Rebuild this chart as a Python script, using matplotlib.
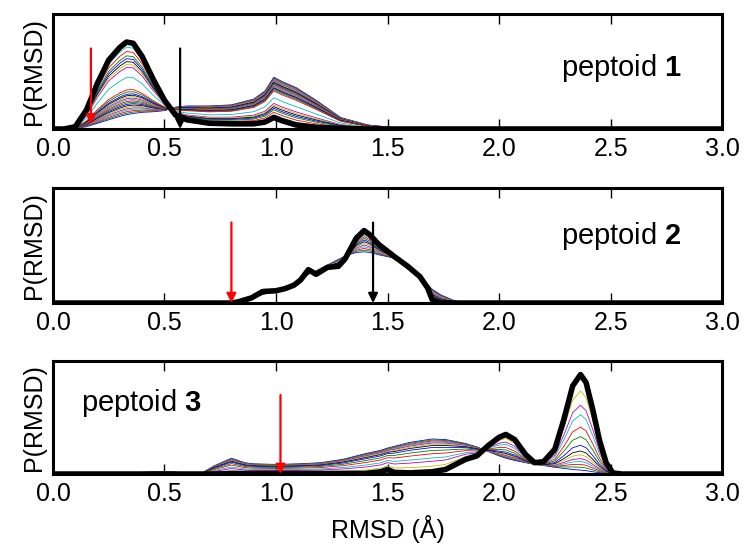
import matplotlib
matplotlib.use('Agg')
import matplotlib.pyplot as plt
import numpy as np

plt.rcParams['font.family'] = ['Liberation Sans', 'DejaVu Sans']
plt.rcParams['mathtext.fontset'] = 'custom'
plt.rcParams['mathtext.rm'] = 'Liberation Sans'
plt.rcParams['mathtext.bf'] = 'Liberation Sans:bold'

## Data (P(RMSD) scaled so the panel height is 1)
## peptoid 1
x1 = [0.0, 0.05, 0.1, 0.15, 0.2, 0.25, 0.3, 0.33, 0.36, 0.4,
      0.45, 0.5, 0.55, 0.6, 0.7, 0.8, 0.9, 0.95, 0.99, 1.03,
      1.09, 1.18, 1.29, 1.41, 1.55, 1.7, 3.0]
final1 = [0, 0, 0.02, 0.165, 0.4, 0.6, 0.71, 0.756, 0.745, 0.63,
          0.43, 0.25, 0.12, 0.08, 0.05, 0.045, 0.045, 0.06, 0.1, 0.07,
          0.035, 0.015, 0.005, 0, 0, 0, 0]
start1 = [0, 0, 0.005, 0.02, 0.05, 0.08, 0.11, 0.125, 0.135, 0.145,
          0.15, 0.16, 0.19, 0.2, 0.2, 0.21, 0.26, 0.33, 0.45, 0.41,
          0.36, 0.25, 0.1, 0.035, 0.008, 0, 0]
# how far each thin curve has moved from start to final
frac1 = [0.0, 0.02, 0.04, 0.06, 0.08, 0.10, 0.12, 0.14, 0.16, 0.18,
         0.20, 0.22, 0.24, 0.26, 0.28, 0.31, 0.34, 0.51,
         0.65, 0.69, 0.73, 0.77, 0.81, 0.87, 0.93]

## peptoid 2
x2 = [0, 0.6, 0.7, 0.8, 0.83, 0.89, 0.94, 1.0, 1.04, 1.08,
      1.11, 1.145, 1.18, 1.23, 1.28, 1.31, 1.36, 1.395, 1.42, 1.46,
      1.53, 1.59, 1.645, 1.68, 1.70, 1.74, 1.8, 1.85, 3.0]
final2 = [0, 0, 0, 0, 0.01, 0.045, 0.10, 0.107, 0.125, 0.155,
          0.20, 0.29, 0.25, 0.31, 0.32, 0.385, 0.565, 0.63, 0.595, 0.51,
          0.405, 0.32, 0.23, 0.13, 0.03, 0, 0, 0, 0]
start2 = [0, 0, 0.004, 0.012, 0.018, 0.04, 0.075, 0.1, 0.12, 0.15,
          0.19, 0.25, 0.28, 0.33, 0.38, 0.41, 0.44, 0.445, 0.44, 0.42,
          0.39, 0.31, 0.235, 0.16, 0.12, 0.07, 0.02, 0.003, 0]
frac2 = [0.0, 0.08, 0.16, 0.24, 0.32, 0.40, 0.48, 0.56, 0.64, 0.72, 0.80, 0.88]

## peptoid 3
x3 = [0, 0.3, 0.4, 0.5, 0.6, 0.67, 0.72, 0.8, 0.86, 0.9,
      1.0, 1.1, 1.2, 1.3, 1.4, 1.47, 1.5, 1.53, 1.6, 1.7,
      1.76, 1.8, 1.85, 1.9, 1.95, 2.0, 2.03, 2.07, 2.12, 2.16,
      2.2, 2.25, 2.29, 2.33, 2.365, 2.39, 2.42, 2.45, 2.48, 2.51,
      2.55, 3.0]
final3 = [0, 0, 0, 0, 0, 0, 0, 0.005, 0.005, 0.005,
          0.005, 0.005, 0.005, 0.005, 0.005, 0.02, 0.04, 0.015, 0.01, 0.02,
          0.04, 0.08, 0.13, 0.16, 0.25, 0.325, 0.35, 0.305, 0.17, 0.1,
          0.11, 0.22, 0.48, 0.78, 0.88, 0.81, 0.57, 0.3, 0.1, 0.01,
          0, 0]
start3 = [0, 0, 0.015, 0.02, 0.012, 0.01, 0.07, 0.14, 0.1, 0.09,
          0.085, 0.09, 0.1, 0.13, 0.18, 0.21, 0.23, 0.245, 0.28, 0.31,
          0.305, 0.29, 0.27, 0.24, 0.2, 0.16, 0.14, 0.12, 0.1, 0.085,
          0.075, 0.06, 0.05, 0.04, 0.035, 0.03, 0.02, 0.012, 0.005, 0,
          0, 0]
frac3 = [0.0, 0.03, 0.06, 0.09, 0.12, 0.16, 0.20, 0.26, 0.35, 0.45, 0.58, 0.68, 0.83]

## arrows: (x position, colour, tip height)
arrows1 = [(0.17, 'red', 0.04), (0.57, 'black', 0.0)]
arrows2 = [(0.80, 'red', 0.0), (1.435, 'black', 0.0)]
arrows3 = [(1.02, 'red', 0.0)]

labels = ['1', '2', '3']
xticks = [0.0, 0.5, 1.0, 1.5, 2.0, 2.5, 3.0]

panels = [(x1, final1, start1, frac1, arrows1),
          (x2, final2, start2, frac2, arrows2),
          (x3, final3, start3, frac3, arrows3)]

## classic matplotlib colour cycle
thin_colors = ['b', 'g', 'r', 'c', 'm', 'y', 'k']

fig = plt.figure(figsize=(7.46, 5.48), dpi=100)
bottoms = [0.7646, 0.447, 0.135]
heights = [0.2099, 0.2099, 0.2062]

axs = []
for i in range(3):
    ax = fig.add_axes([0.071, bottoms[i], 0.897, heights[i]])
    axs.append(ax)
    x, final, start, frac, arrows = panels[i]
    x = np.array(x)
    final = np.array(final)
    start = np.array(start)
    for k in range(len(frac)):
        y = start + frac[k] * (final - start)
        ax.plot(x, y, color=thin_colors[k % 7], lw=0.6)
    ax.plot(x, final, color='black', lw=4.0, solid_capstyle='round')
    for ax_x, col, tip in arrows:
        ax.annotate('', xy=(ax_x, tip), xytext=(ax_x, 0.70),
                    arrowprops=dict(arrowstyle='-|>', color=col, lw=1.6,
                                    mutation_scale=14, shrinkA=0, shrinkB=0))
    ax.set_xlim(0, 3)
    ax.set_ylim(0, 1)
    ax.set_xticks(xticks)
    ax.set_xticklabels(['%.1f' % t for t in xticks], fontsize=18)
    ax.set_yticks([])
    ax.tick_params(axis='x', direction='in', top=True, bottom=True,
                   length=7, width=1, pad=6)
    for s in ax.spines.values():
        s.set_linewidth(2.2)
    ax.set_ylabel('P(RMSD)', fontsize=18, labelpad=5)

axs[0].text(0.94, 0.53, r'peptoid $\mathbf{1}$', transform=axs[0].transAxes,
            fontsize=21, ha='right', va='center')
axs[1].text(0.94, 0.58, r'peptoid $\mathbf{2}$', transform=axs[1].transAxes,
            fontsize=21, ha='right', va='center')
axs[2].text(0.042, 0.63, r'peptoid $\mathbf{3}$', transform=axs[2].transAxes,
            fontsize=21, ha='left', va='center')

axs[2].set_xlabel('RMSD (Å)', fontsize=18, labelpad=6)

fig.savefig('out.png', dpi=100)
